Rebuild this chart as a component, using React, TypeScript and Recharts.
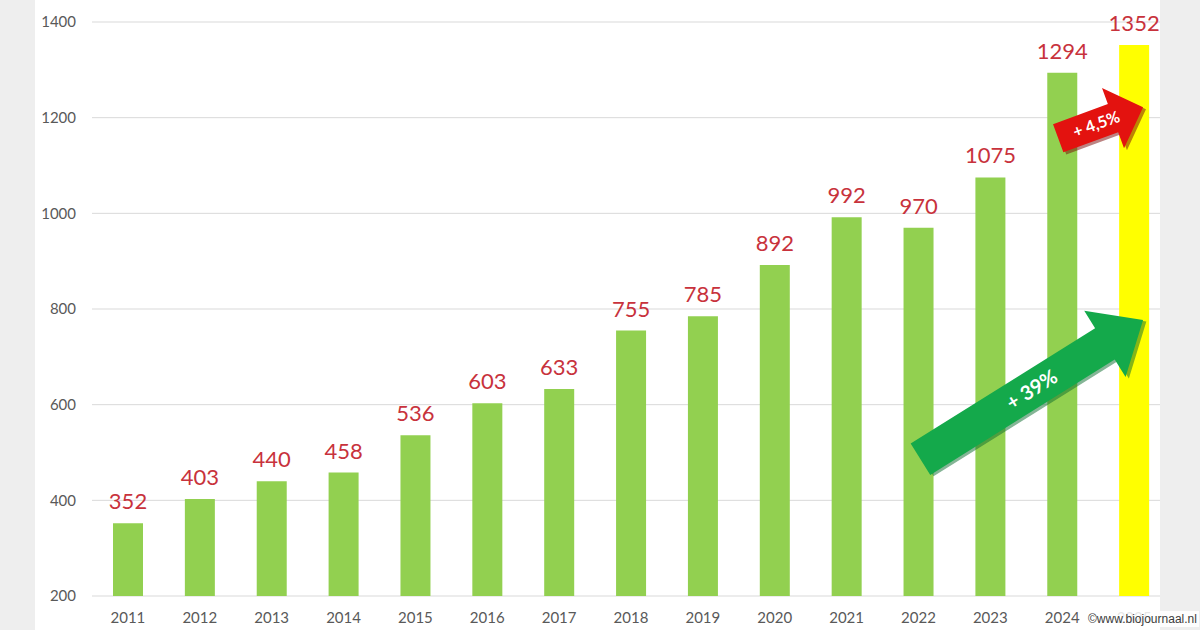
import React from 'react';
import { BarChart, Bar, XAxis, YAxis, CartesianGrid, Cell, LabelList, ReferenceLine } from 'recharts';

const years = ['2011', '2012', '2013', '2014', '2015', '2016', '2017', '2018', '2019', '2020', '2021', '2022', '2023', '2024', '2025'];
const counts = [352, 403, 440, 458, 536, 603, 633, 755, 785, 892, 992, 970, 1075, 1294, 1352];
const yTicks = [200, 400, 600, 800, 1000, 1200, 1400];

// arrow annotations: [from year, from value] -> [to year, to value]
const longArrow = { from: ['2022', 486], to: ['2025', 777], text: '+ 39%' };
const shortArrow = { from: ['2024', 1157], to: ['2025', 1222], text: '+ 4,5%' };

const data = years.map((y, i) => ({ year: y, count: counts[i] }));

const makeArrow = (opts: { fill: string; dark: string; text: string; shaft: number; head: number; headLen: number; font: number; dx1: number; dx2: number; textAt: number }) =>
  (props: any) => {
    const x1 = props.x1 + opts.dx1;
    const y1 = props.y1;
    const x2 = props.x2 + opts.dx2;
    const y2 = props.y2;
    const L = Math.hypot(x2 - x1, y2 - y1);
    const ang = (Math.atan2(y2 - y1, x2 - x1) * 180) / Math.PI;
    const t = opts.shaft / 2;
    const w = opts.head / 2;
    const h = opts.headLen;
    const pts = `0,${-t} ${L - h},${-t} ${L - h},${-w} ${L},0 ${L - h},${w} ${L - h},${t} 0,${t}`;
    return (
      <g transform={`translate(${x1},${y1}) rotate(${ang})`}>
        <polygon points={pts} fill={opts.dark} transform="translate(2,3)" opacity={0.5} />
        <polygon points={pts} fill={opts.fill} />
        <text
          x={L * opts.textAt}
          y={0}
          dy="0.35em"
          textAnchor="middle"
          fill="#ffffff"
          fontWeight="bold"
          fontSize={opts.font}
          fontFamily="Lato, 'Open Sans', sans-serif"
        >
          {opts.text}
        </text>
      </g>
    );
  };

export default function App() {
  return (
    <div style={{ position: 'absolute', left: 0, top: 0, width: 1200, height: 630, background: '#eeeeee', overflow: 'hidden' }}>
      <div style={{ position: 'absolute', left: 35, top: 0, width: 1125, height: 630, background: '#ffffff' }} />
      <div style={{ position: 'absolute', left: 0, top: 0 }}>
        <BarChart width={1200} height={630} data={data} margin={{ top: 22, right: 30, left: 0, bottom: 0 }} barSize={30}>
          <CartesianGrid vertical={false} stroke="#d9d9d9" />
          <XAxis
            dataKey="year"
            axisLine={false}
            tickLine={false}
            height={34}
            tickMargin={10}
            interval={0}
            tick={{ fill: '#595959', fontSize: 15, fontFamily: 'Lato, sans-serif' }}
          />
          <YAxis
            domain={[200, 1400]}
            ticks={yTicks}
            axisLine={false}
            tickLine={false}
            width={92}
            tickMargin={10}
            tick={{ fill: '#595959', fontSize: 15, fontFamily: 'Lato, sans-serif' }}
          />
          <Bar dataKey="count" isAnimationActive={false}>
            {data.map((d, i) => (
              <Cell key={d.year} fill={i === data.length - 1 ? '#ffff00' : '#92d050'} />
            ))}
            <LabelList
              dataKey="count"
              position="top"
              offset={14}
              fill="#c8323c"
              fontSize={22}
              fontFamily="Lato, sans-serif"
            />
          </Bar>
          <ReferenceLine
            segment={[{ x: longArrow.from[0], y: longArrow.from[1] }, { x: longArrow.to[0], y: longArrow.to[1] }]}
            shape={makeArrow({ fill: '#14a94b', dark: '#0b6b2e', text: longArrow.text, shaft: 37, head: 78, headLen: 45, font: 20, dx1: 2, dx2: 9, textAt: 0.5 })}
          />
          <ReferenceLine
            segment={[{ x: shortArrow.from[0], y: shortArrow.from[1] }, { x: shortArrow.to[0], y: shortArrow.to[1] }]}
            shape={makeArrow({ fill: '#e3120f', dark: '#7a0a08', text: shortArrow.text, shaft: 30, head: 64, headLen: 32, font: 16, dx1: -4, dx2: 9, textAt: 0.45 })}
          />
        </BarChart>
      </div>
      <div style={{ position: 'absolute', left: 1160, top: 0, width: 40, height: 630, background: '#eeeeee' }} />
      <div
        style={{
          position: 'absolute',
          left: 1086,
          top: 611,
          padding: '0 2px',
          fontFamily: "'Liberation Sans', Arial, sans-serif",
          fontSize: 12,
          lineHeight: '16px',
          color: '#3a3a3a',
          background: 'rgba(255,255,255,0.85)',
        }}
      >
        ©www.biojournaal.nl
      </div>
    </div>
  );
}
